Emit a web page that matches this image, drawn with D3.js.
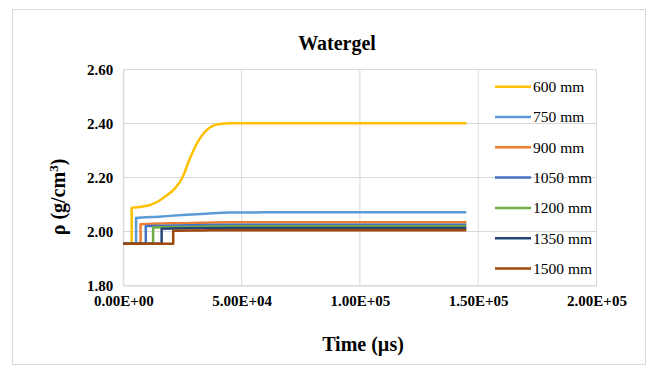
<!DOCTYPE html>
<html>
<head>
<meta charset="utf-8">
<script src="https://cdn.jsdelivr.net/npm/d3@7/dist/d3.min.js"></script>
<style>
  html, body { margin: 0; padding: 0; background: #fff; }
  svg { display: block; }
  text { font-family: "Liberation Serif", "Times New Roman", serif; fill: #000; }
</style>
</head>
<body>
<svg id="chart" width="648" height="369"></svg>
<script>
// Density of watergel behind the shock front, sampled at several distances
const seriesNames = ["600 mm", "750 mm", "900 mm", "1050 mm", "1200 mm", "1350 mm", "1500 mm"];
const seriesColors = ["#FFC000", "#5B9BD5", "#ED7D31", "#4472C4", "#70AD47", "#264478", "#9E480E"];

// time (µs) and density (g/cm3) for each series
const t600 = [0, 3550, 3551, 7000, 11300, 15000, 18300, 21000, 23000, 25000, 28000, 32400, 36600, 40900, 45000, 145000];
const r600 = [1.955, 1.955, 2.087, 2.091, 2.098, 2.113, 2.133, 2.152, 2.172, 2.200, 2.268, 2.345, 2.385, 2.398, 2.401, 2.401];

const t750 = [0, 5400, 5401, 15000, 25000, 35000, 45000, 60000, 145000];
const r750 = [1.955, 1.955, 2.050, 2.055, 2.061, 2.066, 2.070, 2.071, 2.071];

const t900 = [0, 7300, 7301, 25000, 45000, 145000];
const r900 = [1.955, 1.955, 2.027, 2.031, 2.034, 2.034];

const t1050 = [0, 9500, 9501, 27000, 45000, 145000];
const r1050 = [1.955, 1.955, 2.020, 2.023, 2.025, 2.025];

const t1200 = [0, 12600, 12601, 28000, 45000, 145000];
const r1200 = [1.955, 1.955, 2.015, 2.017, 2.019, 2.019];

const t1350 = [0, 16200, 16201, 30000, 45000, 145000];
const r1350 = [1.955, 1.955, 2.010, 2.012, 2.013, 2.013];

const t1500 = [0, 21100, 21101, 33000, 45000, 145000];
const r1500 = [1.955, 1.955, 2.003, 2.004, 2.005, 2.005];

const seriesTimes = [t600, t750, t900, t1050, t1200, t1350, t1500];
const seriesRho = [r600, r750, r900, r1050, r1200, r1350, r1500];

const xTicks = [0, 50000, 100000, 150000, 200000];
const xTickLabels = ["0.00E+00", "5.00E+04", "1.00E+05", "1.50E+05", "2.00E+05"];
const yTicks = [1.8, 2.0, 2.2, 2.4, 2.6];
const yTickLabels = ["1.80", "2.00", "2.20", "2.40", "2.60"];

const svg = d3.select("#chart");
const plot = { left: 123.3, right: 596.5, top: 69.5, bottom: 285.5 };

const x = d3.scaleLinear().domain([0, 200000]).range([plot.left, plot.right]);
const y = d3.scaleLinear().domain([1.8, 2.6]).range([plot.bottom, plot.top]);

// chart frame
svg.append("rect")
  .attr("x", 12.5).attr("y", 9.5).attr("width", 633).attr("height", 355)
  .attr("fill", "#fff").attr("stroke", "#d9d9d9").attr("stroke-width", 1);

// gridlines
const gridColor = "#d9d9d9";
svg.append("g").selectAll("line").data(yTicks).join("line")
  .attr("x1", plot.left).attr("x2", plot.right)
  .attr("y1", d => y(d)).attr("y2", d => y(d))
  .attr("stroke", gridColor).attr("stroke-width", 1);
svg.append("g").selectAll("line").data(xTicks).join("line")
  .attr("x1", d => x(d)).attr("x2", d => x(d))
  .attr("y1", plot.top).attr("y2", plot.bottom)
  .attr("stroke", gridColor).attr("stroke-width", 1);

// axes (labels only; the gridlines act as axis lines)
const xAxis = d3.axisBottom(x).tickValues(xTicks)
  .tickFormat((d, i) => xTickLabels[i]).tickSize(0).tickPadding(10);
const gx = svg.append("g").attr("transform", `translate(0,${plot.bottom})`).call(xAxis);
gx.select(".domain").attr("stroke", gridColor);
gx.selectAll("text").attr("font-size", 15).attr("font-weight", "bold")
  .attr("font-family", "Liberation Serif");

const yAxis = d3.axisLeft(y).tickValues(yTicks)
  .tickFormat((d, i) => yTickLabels[i]).tickSize(0).tickPadding(10);
const gy = svg.append("g").attr("transform", `translate(${plot.left},0)`).call(yAxis);
gy.select(".domain").attr("stroke", gridColor);
gy.selectAll("text").attr("font-size", 15).attr("font-weight", "bold")
  .attr("font-family", "Liberation Serif").attr("dy", "0.3em");

// series lines
const line = d3.line()
  .x(d => x(d[0]))
  .y(d => y(d[1]))
  .curve(d3.curveMonotoneX);

seriesNames.forEach((name, i) => {
  const pts = seriesTimes[i].map((t, j) => [t, seriesRho[i][j]]);
  svg.append("path")
    .datum(pts)
    .attr("d", line)
    .attr("fill", "none")
    .attr("stroke", seriesColors[i])
    .attr("stroke-width", 2.5)
    .attr("stroke-linejoin", "round");
});

// legend
const legend = svg.append("g");
seriesNames.forEach((name, i) => {
  const ly = 86.7 + i * 30.3;
  legend.append("line")
    .attr("x1", 495).attr("x2", 531).attr("y1", ly).attr("y2", ly)
    .attr("stroke", seriesColors[i]).attr("stroke-width", 2.5);
  legend.append("text")
    .attr("x", 533).attr("y", ly).attr("dy", "0.35em")
    .attr("font-size", 15.5)
    .text(name);
});

// title
svg.append("text")
  .attr("x", 337).attr("y", 50)
  .attr("text-anchor", "middle")
  .attr("font-size", 20).attr("font-weight", "bold")
  .text("Watergel");

// x axis title
svg.append("text")
  .attr("x", 363).attr("y", 351)
  .attr("text-anchor", "middle")
  .attr("font-size", 20).attr("font-weight", "bold")
  .text("Time (µs)");

// y axis title
const yt = svg.append("text")
  .attr("transform", "translate(65,197) rotate(-90)")
  .attr("text-anchor", "middle")
  .attr("font-size", 20).attr("font-weight", "bold");
yt.append("tspan").text("ρ (g/cm");
yt.append("tspan").attr("font-size", 13).attr("dy", "-0.55em").text("3");
yt.append("tspan").attr("dy", "0.35em").text(")");
</script>
</body>
</html>
